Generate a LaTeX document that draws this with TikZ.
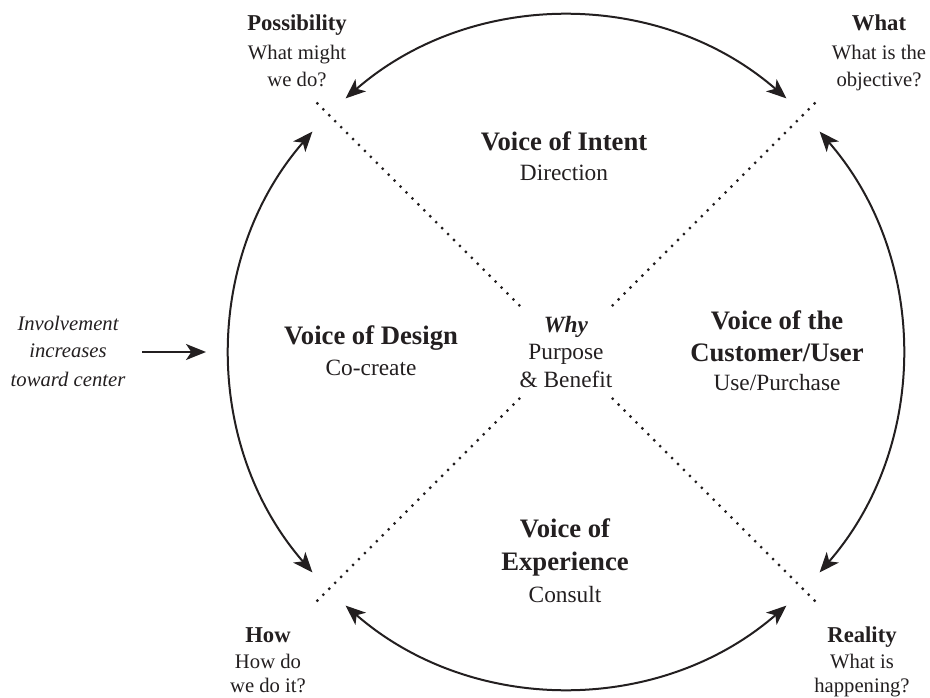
\documentclass[tikz,border=0pt]{standalone}
\usepackage{fontspec}
\setmainfont{Liberation Serif}
\usetikzlibrary{arrows.meta}
\definecolor{ink}{HTML}{231F20}
\begin{document}
\begin{tikzpicture}[x=0.75pt,y=0.75pt,
  hd/.style={anchor=base,inner sep=0pt,text=ink,font=\fontsize{20}{24}\selectfont\bfseries},
  sb/.style={anchor=base,inner sep=0pt,text=ink,font=\fontsize{17.5}{21}\selectfont},
  wy/.style={anchor=base,inner sep=0pt,text=ink,font=\fontsize{17.5}{21}\selectfont\bfseries\itshape},
  ch/.style={anchor=base,inner sep=0pt,text=ink,font=\fontsize{17}{20}\selectfont\bfseries},
  cs/.style={anchor=base,inner sep=0pt,text=ink,font=\fontsize{15.5}{19}\selectfont},
  itx/.style={anchor=base,inner sep=0pt,text=ink,font=\fontsize{15.5}{19}\selectfont\itshape},
  arr/.style={draw=ink,line width=1.5pt,{Stealth[length=15pt,width=12pt,inset=4pt]}-{Stealth[length=15pt,width=12pt,inset=4pt]}},
  onearr/.style={draw=ink,line width=1.5pt,-{Stealth[length=15pt,width=12pt,inset=4pt]}},
  dotline/.style={draw=ink,line width=2.3pt,line cap=round,dash pattern=on 0pt off 6.3pt}
]
\useasboundingbox[fill=white] (0,0) rectangle (930,697);
\coordinate (c) at (566,345);
% arc end points
\path (c) ++(131:336) coordinate (t1) (c) ++(139:336) coordinate (l1)
      (c) ++(229:336) coordinate (b1) (c) ++(319:336) coordinate (r1);
% dotted diagonals
\path (c) ++(45:66) coordinate (d1i) (c) ++(45:358) coordinate (d1o)
      (c) ++(135:66) coordinate (d2i) (c) ++(135:358) coordinate (d2o)
      (c) ++(225:66) coordinate (d3i) (c) ++(225:358) coordinate (d3o)
      (c) ++(315:66) coordinate (d4i) (c) ++(315:358) coordinate (d4o);
\draw[dotline] (d1i) -- (d1o);
\draw[dotline] (d2i) -- (d2o);
\draw[dotline] (d3i) -- (d3o);
\draw[dotline] (d4i) -- (d4o);
% arcs
\draw[arr] (t1) arc[start angle=131, end angle=49, radius=252pt];
\draw[arr] (l1) arc[start angle=139, end angle=221, radius=252pt];
\draw[arr] (b1) arc[start angle=229, end angle=311, radius=252pt];
\draw[arr] (r1) arc[start angle=319, end angle=401, radius=252pt];
% center labels
\node[hd] (vi1) at (564,546) {Voice of Intent};
\node[sb] (vi2) at (564,516) {Direction};
\node[hd] (vd1) at (371,353) {Voice of Design};
\node[sb] (vd2) at (371,322) {Co-create};
\node[wy] (w1) at (566,365) {Why};
\node[sb] (w2) at (566,338) {Purpose};
\node[sb] (w3) at (566,310) {\&~Benefit};
\node[hd] (vc1) at (777,368) {Voice of the};
\node[hd] (vc2) at (777,336) {Customer/User};
\node[sb] (vc3) at (777,307) {Use/Purchase};
\node[hd] (ve1) at (565,160) {Voice of};
\node[hd] (ve2) at (565,127) {Experience};
\node[sb] (ve3) at (565,95) {Consult};
% corner labels
\node[ch] (p1) at (297,666) {Possibility};
\node[cs] (p2) at (297,637) {What might};
\node[cs] (p3) at (297,610) {we do?};
\node[ch] (q1) at (879,666) {What};
\node[cs] (q2) at (879,637) {What is the};
\node[cs] (q3) at (879,610) {objective?};
\node[ch] (h1) at (268,55) {How};
\node[cs] (h2) at (268,29) {How do};
\node[cs] (h3) at (268,5) {we do it?};
\node[ch] (r1n) at (862,55) {Reality};
\node[cs] (r2n) at (862,29) {What is};
\node[cs] (r3n) at (862,5) {happening?};
% involvement
\node[itx] (i1) at (68,367) {Involvement};
\node[itx] (i2) at (68,340) {increases};
\node[itx] (i3) at (68,311) {toward center};
\coordinate (ia) at (142,345);
\coordinate (ib) at (206,345);
\draw[onearr] (ia) -- (ib);
\end{tikzpicture}
\end{document}
